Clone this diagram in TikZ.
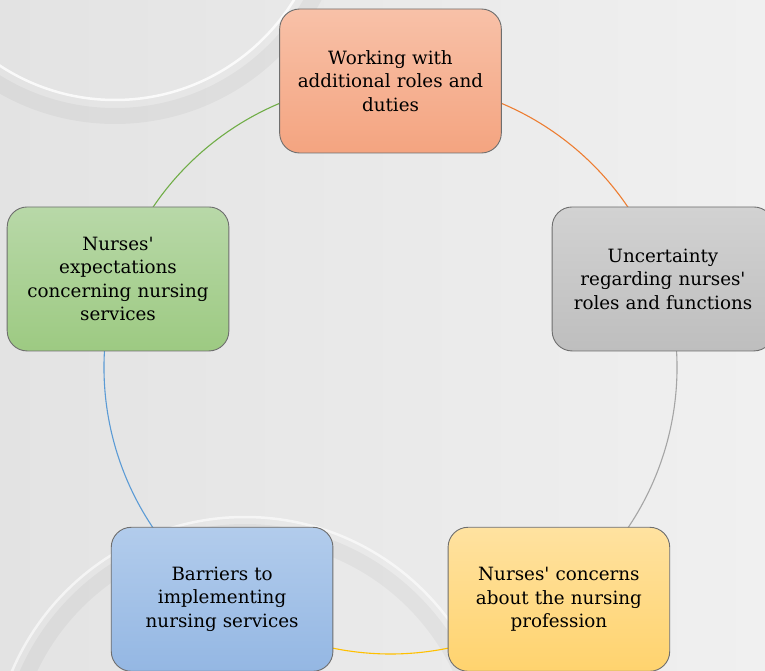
\documentclass[tikz,border=0pt]{standalone}
\usepackage{tikz}
\usepackage{fontspec}
\newfontfamily\boxfont{DejaVu Serif}
\usetikzlibrary{backgrounds}

\definecolor{bgleft}{HTML}{E3E3E3}
\definecolor{bgright}{HTML}{F0F0F0}
\definecolor{boxline}{HTML}{6E6E6E}
\definecolor{arcorange}{HTML}{ED7D31}
\definecolor{arcgray}{HTML}{A5A5A5}
\definecolor{arcyellow}{HTML}{FFC000}
\definecolor{arcblue}{HTML}{5B9BD5}
\definecolor{arcgreen}{HTML}{70AD47}

\tikzset{
	cyclebox/.style={draw=boxline, line width=0.9pt, rounded corners=20pt,
		minimum width=221pt, minimum height=144pt, text width=215pt, align=center,
		font=\boxfont\fontsize{18.3}{23.5}\selectfont, text=black},
	cyclearc/.style={line width=1.1pt}
}

\begin{document}
\begin{tikzpicture}[x=1pt,y=1pt]

	\useasboundingbox (0,0) rectangle (765,670);
	\clip (0,0) rectangle (765,670);

	\coordinate (c) at (390.5,302.5);
	\def\r{286.5}

	\node[cyclebox, top color={rgb,255:red,248;green,193;blue,168}, bottom color={rgb,255:red,244;green,164;blue,128}]
		(work) at ([shift={(90:\r)}]c) {Working with\\additional roles and\\duties};
	\node[cyclebox, top color={rgb,255:red,210;green,210;blue,210}, bottom color={rgb,255:red,190;green,190;blue,190}]
		(unc) at ([shift={(18:\r)}]c) {Uncertainty\\regarding nurses'\\roles and functions};
	\node[cyclebox, top color={rgb,255:red,255;green,226;blue,160}, bottom color={rgb,255:red,255;green,211;blue,110}]
		(conc) at ([shift={(-54:\r)}]c) {Nurses' concerns\\about the nursing\\profession};
	\node[cyclebox, top color={rgb,255:red,178;green,204;blue,236}, bottom color={rgb,255:red,148;green,183;blue,227}]
		(barr) at ([shift={(-126:\r)}]c) {Barriers to\\implementing\\nursing services};
	\node[cyclebox, top color={rgb,255:red,184;green,216;blue,168}, bottom color={rgb,255:red,157;green,202;blue,130}]
		(expe) at ([shift={(162:\r)}]c) {Nurses'\\expectations\\concerning nursing\\services};

	\begin{pgfonlayer}{background}
		% backdrop
		\shade[left color=bgleft, right color=bgright] (0,0) rectangle (765,670);
		\draw[line width=16pt, black, opacity=0.035] (115,780) circle (226);
		\draw[line width=2.5pt, white, opacity=0.8] (115,780) circle (210);
		\draw[line width=16pt, black, opacity=0.035] (245,-100) circle (238);
		\draw[line width=2.5pt, white, opacity=0.6] (245,-100) circle (253);

		\draw[cyclearc, arcorange] (work.center) arc[start angle=90, end angle=18, radius=\r];
		\draw[cyclearc, arcgray] (unc.center) arc[start angle=18, end angle=-54, radius=\r];
		\draw[cyclearc, arcyellow] (conc.center) arc[start angle=-54, end angle=-126, radius=\r];
		\draw[cyclearc, arcblue] (barr.center) arc[start angle=-126, end angle=-198, radius=\r];
		\draw[cyclearc, arcgreen] (expe.center) arc[start angle=162, end angle=90, radius=\r];
	\end{pgfonlayer}

\end{tikzpicture}
\end{document}
